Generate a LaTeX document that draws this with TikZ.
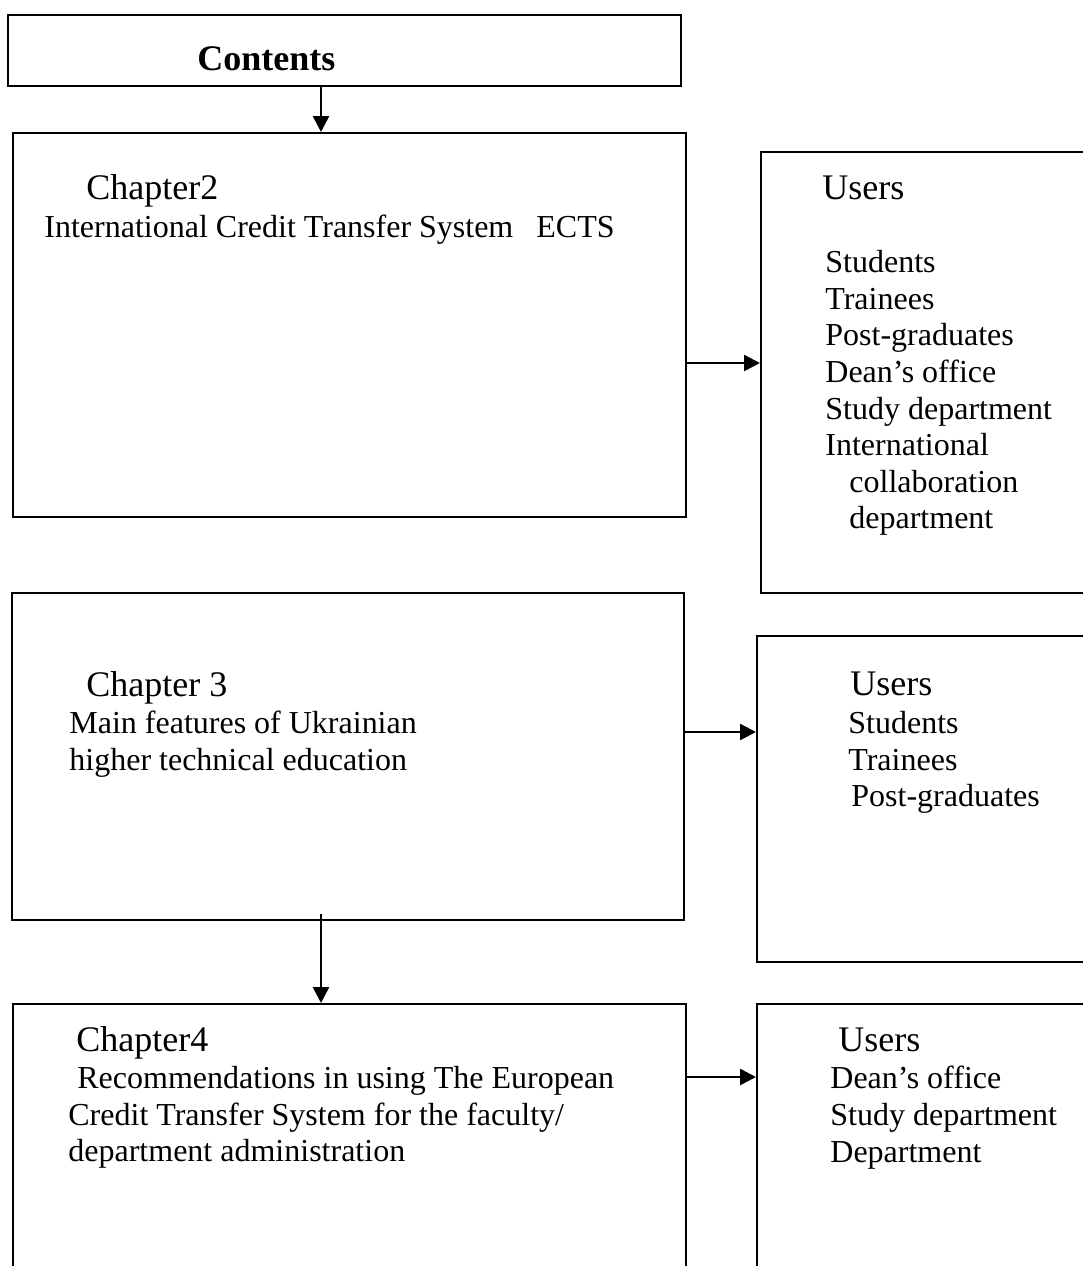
\documentclass[tikz,border=0pt]{standalone}
\usepackage{fontspec}
\setmainfont{Liberation Serif}
\usetikzlibrary{arrows.meta,positioning,calc,fit}
\tikzset{
    chapbox/.style={draw, line width=1pt, inner sep=0pt},
    userbox/.style={draw, line width=1pt, inner sep=0pt},
    headtext/.style={font=\fontsize{18}{21}\selectfont, inner sep=0pt, anchor=base west},
    bodytext/.style={font=\fontsize{16}{18.3}\selectfont, inner sep=0pt, align=left, anchor=north west},
    flowarrow/.style={-{Triangle[length=8pt, width=8pt]}, line width=1.3pt}
}

\begin{document}
\begin{tikzpicture}[x=0.5pt, y=-0.5pt]
    \useasboundingbox (0,0) rectangle (1083,1266);
    \clip (0,0) rectangle (1083,1266);

    \node[chapbox, fit={(8,15) (681,86)}] (contents) {};
    \node[chapbox, fit={(13,133) (686,517)}] (ch2) {};
    \node[chapbox, fit={(12,593) (684,920)}] (ch3) {};
    \node[chapbox, fit={(13,1004) (686,1300)}] (ch4) {};
    \node[userbox, fit={(761,152) (1100,593)}] (users1) {};
    \node[userbox, fit={(757,636) (1100,962)}] (users2) {};
    \node[userbox, fit={(757,1004) (1100,1300)}] (users3) {};

    \node[headtext, font=\bfseries\fontsize{18}{21}\selectfont] (contentstext) at (197,70) {Contents};

    \node[headtext] (ch2head) at (86,199) {Chapter2};
    \node[bodytext] (ch2text) at (44,215) {International Credit Transfer System\hspace{11.5pt}ECTS};
    \node[headtext] (users1head) at (822,199) {Users};
    \node[bodytext] (users1text) at (825,250) {Students\\Trainees\\Post-graduates\\Dean’s office\\Study department\\International\\\hspace*{12pt}collaboration\\\hspace*{12pt}department};

    \node[headtext] (ch3head) at (86,696) {Chapter 3};
    \node[bodytext] (ch3text) at (69,711) {Main features of Ukrainian\\higher technical education};
    \node[headtext] (users2head) at (850,695) {Users};
    \node[bodytext] (users2text) at (848,711) {Students\\Trainees\\\hspace*{1.5pt}Post-graduates};

    \node[headtext] (ch4head) at (76,1051) {Chapter4};
    \node[bodytext] (ch4text) at (68,1066) {\hspace*{4.5pt}Recommendations in using The European\\Credit Transfer System for the faculty/\\department administration};
    \node[headtext] (users3head) at (838,1051) {Users};
    \node[bodytext] (users3text) at (830,1066) {Dean’s office\\Study department\\Department};

    \coordinate (spine) at (321,0);
    \coordinate (row1) at (0,363);
    \coordinate (row2) at (0,732);
    \coordinate (row3) at (0,1077);

    \draw[flowarrow] (contents.south -| spine) -- (ch2.north -| spine);
    \draw[flowarrow] (ch2.east |- row1) -- (users1.west |- row1);
    \draw[flowarrow] (ch3.east |- row2) -- (users2.west |- row2);
    \draw[flowarrow, shorten <=-3.5pt] (ch3.south -| spine) -- (ch4.north -| spine);
    \draw[flowarrow] (ch4.east |- row3) -- (users3.west |- row3);
\end{tikzpicture}
\end{document}
